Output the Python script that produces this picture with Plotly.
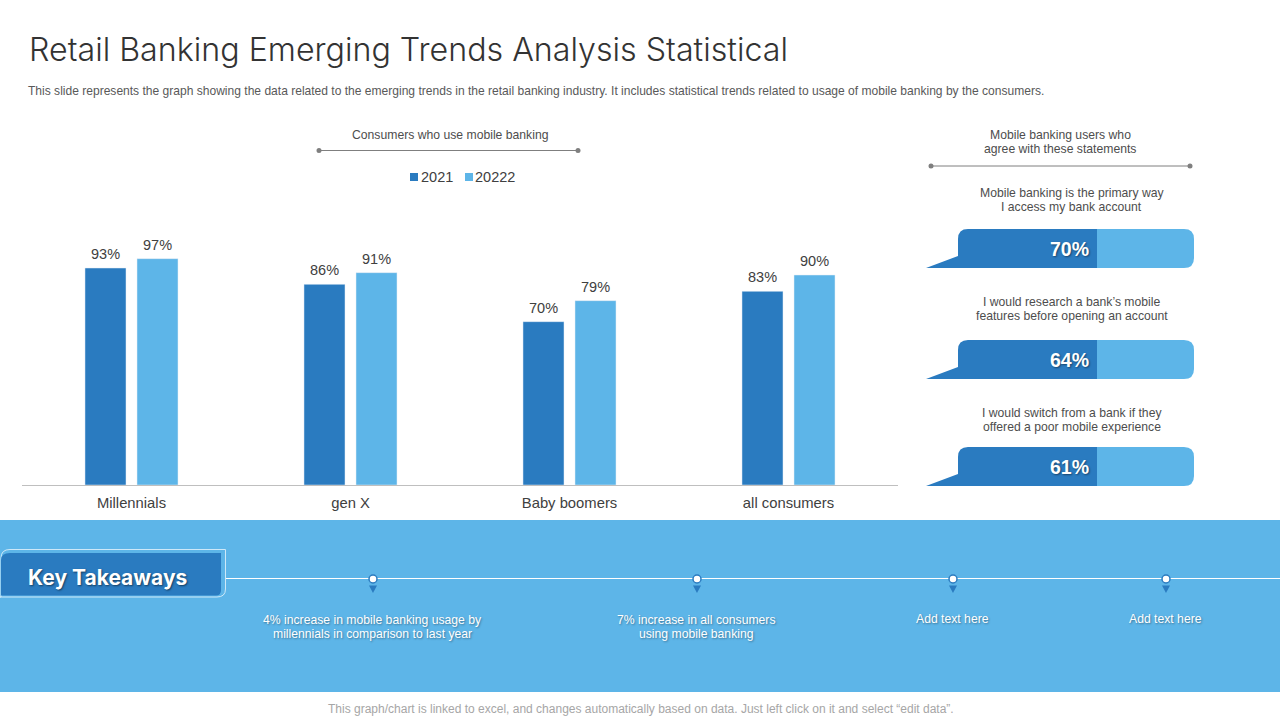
import plotly.graph_objects as go

# chart data
categories = ["Millennials", "gen X", "Baby boomers", "all consumers"]
values_2021 = [93, 86, 70, 83]
values_2022 = [97, 91, 79, 90]
series_names = ["2021", "20222"]

statement_values = [70, 64, 61]
statements = [
    "Mobile banking is the primary way<br>I access my bank account",
    "I would research a bank\u2019s mobile<br>features before opening an account",
    "I would switch from a bank if they<br>offered a poor mobile experience",
]
takeaways = [
    "4% increase in mobile banking usage by<br>millennials in comparison to last year",
    "7% increase in all consumers<br>using mobile banking",
    "Add text here",
    "Add text here",
]

W, H = 1280, 720
DARK = "#2A7BC0"
LIGHT = "#5DB5E8"
TEXT = "#404040"
SMALL = "#4D4D4D"
BODY = "Liberation Sans"


def px(x):
    return x / W


def py(y):
    return 1 - y / H


def pt(x, y):
    return f"{px(x):.5f},{py(y):.5f}"


fig = go.Figure()
fig.add_bar(name=series_names[0], x=categories, y=values_2021, marker_color=DARK, showlegend=False)
fig.add_bar(name=series_names[1], x=categories, y=values_2022, marker_color=LIGHT, showlegend=False)

shapes = []
notes = []


def rect(x0, y0, x1, y1, color, line=None, layer="below"):
    shapes.append(dict(type="rect", xref="paper", yref="paper", layer=layer,
                       x0=px(x0), x1=px(x1), y0=py(y0), y1=py(y1),
                       fillcolor=color, line=line or dict(width=0)))


def path(d, color, line=None, layer="above"):
    shapes.append(dict(type="path", xref="paper", yref="paper", layer=layer, path=d,
                       fillcolor=color, line=line or dict(width=0)))


def seg(x0, y0, x1, y1, color, width=1, layer="above"):
    shapes.append(dict(type="line", xref="paper", yref="paper", layer=layer,
                       x0=px(x0), x1=px(x1), y0=py(y0), y1=py(y1),
                       line=dict(color=color, width=width)))


def dot(x, y, r, color, line=None):
    shapes.append(dict(type="circle", xref="paper", yref="paper", layer="above",
                       x0=px(x - r), x1=px(x + r), y0=py(y - r), y1=py(y + r),
                       fillcolor=color, line=line or dict(width=0)))


def label(x, y, text, size=12.2, color=SMALL, family=BODY, anchor="center", **font):
    # one annotation per line, the slide has tighter leading than plotly's default
    lines = text.split("<br>")
    for i, line in enumerate(lines):
        ly = y + (i - (len(lines) - 1) / 2) * 14
        notes.append(dict(xref="paper", yref="paper", x=px(x), y=py(ly), text=line, showarrow=False,
                          xanchor=anchor, yanchor="middle", borderpad=0, borderwidth=0,
                          font=dict(size=size, color=color, family=family, **font)))


# value labels sit a little higher than plotly's outside bar text
for values, shift in [(values_2021, -26), (values_2022, 26)]:
    for cat, v in zip(categories, values):
        notes.append(dict(x=cat, y=v, xref="x", yref="y", text=f"{v}%", showarrow=False,
                          xanchor="center", yanchor="bottom", xshift=shift, yshift=4,
                          font=dict(family=BODY, size=14.5, color=TEXT)))

# header
label(29, 50, "Retail Banking Emerging Trends Analysis Statistical", size=32.2, color="#333333",
      family="Inter", anchor="left", weight=300)
label(28, 90.5, "This slide represents the graph showing the data related to the emerging trends in the "
      "retail banking industry. It includes statistical trends related to usage of mobile banking by the consumers.",
      size=12.05, color="#595959", anchor="left")

# left panel heading and legend
label(449.5, 135, "Consumers who use mobile banking")
seg(319, 150.5, 578, 150.5, "#7F7F7F")
dot(319, 150.5, 2.5, "#7F7F7F")
dot(578, 150.5, 2.5, "#7F7F7F")
rect(410, 173, 418, 181, DARK)
label(421, 177, series_names[0], size=14.5, color=TEXT, anchor="left")
rect(465, 173, 473, 181, LIGHT)
label(475, 177, series_names[1], size=14.5, color=TEXT, anchor="left")

# right panel
label(1060, 142, "Mobile banking users who<br>agree with these statements")
seg(931, 166, 1190, 166, "#7F7F7F")
dot(931, 166, 2.5, "#7F7F7F")
dot(1190, 166, 2.5, "#7F7F7F")

tops = [229, 340, 447]
statement_y = [200, 309, 420]
for top, value, statement, sy in zip(tops, statement_values, statements, statement_y):
    b = top + 39
    path(f"M{pt(1097, top)} L{pt(1184, top)} Q{pt(1194, top)} {pt(1194, top + 10)} "
         f"L{pt(1194, b - 10)} Q{pt(1194, b)} {pt(1184, b)} L{pt(1097, b)} Z", LIGHT)
    path(f"M{pt(926, b)} L{pt(958, b - 12)} L{pt(958, top + 10)} Q{pt(958, top)} {pt(968, top)} "
         f"L{pt(1097, top)} L{pt(1097, b)} Z", DARK)
    label(1069, top + 20.2, f"<b>{value}%</b>", size=19.5, color="white",
          shadow="1px 1px 2px rgba(0,0,0,0.45)")
    label(1071.5, sy, statement)

# key takeaways band
rect(0, 520, W, 692, LIGHT)
seg(226, 578.5, W, 578.5, "white", 1.2, layer="below")
path(f"M{pt(0, 597)} L{pt(217, 597)} Q{pt(225.5, 597)} {pt(225.5, 589)} L{pt(225.5, 549.5)} "
     f"L{pt(10, 549.5)} Q{pt(1, 549.5)} {pt(1, 558)} L{pt(1, 597)} Z", LIGHT,
     line=dict(color="#CFE9F8", width=1))
path(f"M{pt(1, 595.5)} L{pt(216, 595.5)} Q{pt(221, 595.5)} {pt(221, 590)} L{pt(221, 553)} "
     f"L{pt(10, 553)} Q{pt(1, 553)} {pt(1, 560)} Z", DARK)
label(107.5, 577, "<b>Key Takeaways</b>", size=21, color="white", family="Inter",
      shadow="1px 1px 2px rgba(0,0,0,0.5)")

pin_x = [373, 697, 953, 1166]
text_y = [627, 627, 619, 619]
for x, y, text in zip(pin_x, text_y, takeaways):
    path(f"M{pt(x - 4, 585.5)} L{pt(x + 4, 585.5)} L{pt(x, 593)} Z", DARK)
    dot(x, 579, 4, "white", line=dict(color=DARK, width=1.5))
    label(x - 0.5, y, text, color="white", shadow="1px 1px 2px rgba(0,0,0,0.35)")

label(641, 708.5, "This graph/chart is linked to excel, and changes automatically based on data. "
      "Just left click on it and select \u201cedit data\u201d.", size=12, color="#A6A6A6")

fig.update_layout(
    width=W, height=H, margin=dict(l=0, r=0, t=0, b=0),
    paper_bgcolor="white", plot_bgcolor="rgba(0,0,0,0)",
    barmode="group", bargap=0.525, bargroupgap=0.2115,
    shapes=shapes, annotations=notes,
    xaxis=dict(domain=[px(22), px(898)], showgrid=False, zeroline=False, showline=True,
               linecolor="#BFBFBF", linewidth=1, ticks="", ticklabelstandoff=4,
               tickfont=dict(family=BODY, size=14.8, color=TEXT)),
    yaxis=dict(domain=[py(485), py(205)], range=[0, 120], visible=False),
)

fig.write_html("out.html", config=dict(displayModeBar=False),
               post_script="document.body.style.margin='0';")
